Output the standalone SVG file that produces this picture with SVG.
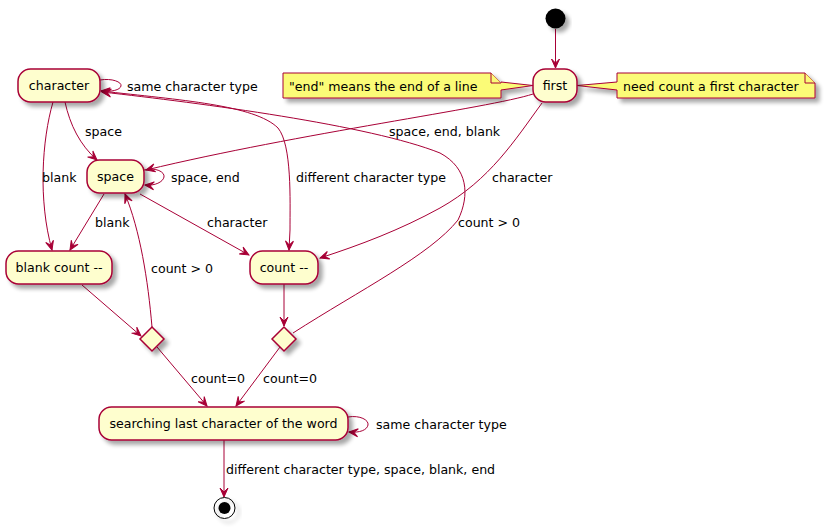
<svg xmlns="http://www.w3.org/2000/svg" width="826" height="529" viewBox="0 0 826 529">
<style>
.st{fill:#FEFECE;stroke:#A80036;stroke-width:1.5}
.nt{fill:#FBFB77;stroke:#A80036;stroke-width:1}
.e{fill:none;stroke:#A80036;stroke-width:1}
text{font-family:"DejaVu Sans","Liberation Sans",sans-serif;font-size:12.6px;fill:#000}
.c{text-anchor:middle}
</style>
<defs>
<filter id="sh" x="-20%" y="-20%" width="150%" height="160%">
<feGaussianBlur in="SourceAlpha" stdDeviation="2"/>
<feOffset dx="4" dy="4" result="b"/>
<feComponentTransfer><feFuncA type="linear" slope="0.35"/></feComponentTransfer>
<feMerge><feMergeNode/><feMergeNode in="SourceGraphic"/></feMerge>
</filter>
<marker id="a" viewBox="-10 -5 11 10" refX="0" refY="0" markerWidth="11" markerHeight="10" markerUnits="userSpaceOnUse" orient="auto">
<path d="M0,0 L-9,-4 L-5,0 L-9,4 Z" fill="#A80036" stroke="#A80036" stroke-width="1"/>
</marker>
</defs>

<g id="connectors">
<path class="e" marker-end="url(#a)" d="M555.5,29 L555.5,68"/>
<path class="e" marker-end="url(#a)" d="M533,94 C490,108 300,133 146,170"/>
<path class="e" marker-end="url(#a)" d="M542,103 C515,140 490,180 440,208 C400,230 360,245 320,258"/>
<path class="e" marker-end="url(#a)" d="M65,102 C70,125 80,145 97,160"/>
<path class="e" marker-end="url(#a)" d="M53,102 C42,140 38,200 52,250"/>
<path class="e" marker-end="url(#a)" d="M100,80 C112,78 122,82 121,86 C120,90 112,92 101,91"/>
<path class="e" d="M101,91 C180,100 255,105 278,128 C292,145 290,200 290,230"/>
<path class="e" marker-end="url(#a)" d="M290,230 L289,250"/>
<path class="e" marker-end="url(#a)" d="M293,333 C360,290 430,255 458,220 C470,195 468,168 440,153 C370,125 200,103 102,92"/>
<path class="e" marker-end="url(#a)" d="M144,170 C156,167 165,172 164,177 C163,182 155,186 145,185"/>
<path class="e" marker-end="url(#a)" d="M104,194 L70,250"/>
<path class="e" marker-end="url(#a)" d="M140,194 L249,255"/>
<path class="e" marker-end="url(#a)" d="M82,285 L141,336"/>
<path class="e" marker-end="url(#a)" d="M152,327 C148,280 140,230 125,194"/>
<path class="e" marker-end="url(#a)" d="M284,284 L284,326"/>
<path class="e" marker-end="url(#a)" d="M157,347 L207,406"/>
<path class="e" marker-end="url(#a)" d="M280,347 L236,406"/>
<path class="e" marker-end="url(#a)" d="M348,417 C360,415 369,420 368,425 C367,430 360,433 349,432"/>
<path class="e" marker-end="url(#a)" d="M224,440 L224,497"/>
<text x="127" y="91">same character type</text>
<text x="85" y="136">space</text>
<text x="42" y="182">blank</text>
<text x="171" y="182">space, end</text>
<text x="389" y="136">space, end, blank</text>
<text x="296" y="182">different character type</text>
<text x="492" y="182">character</text>
<text x="95" y="227">blank</text>
<text x="207" y="227">character</text>
<text x="151" y="273">count &gt; 0</text>
<text x="458" y="227">count &gt; 0</text>
<text x="191" y="383">count=0</text>
<text x="263" y="383">count=0</text>
<text x="376" y="429">same character type</text>
<text x="226" y="474">different character type, space, blank, end</text>
</g>

<g id="start"><circle cx="555.5" cy="18.5" r="10" fill="#000" filter="url(#sh)"/></g>

<g id="note1">
<path class="nt" filter="url(#sh)" d="M283,73 L491,73 L501,83 L501,82 L533,85.5 L501,90 L501,98 L283,98 Z"/>
<path class="nt" d="M491,73 L491,83 L501,83"/>
<text x="289" y="90.5">"end" means the end of a line</text>
</g>

<g id="note2">
<path class="nt" filter="url(#sh)" d="M617,73 L805,73 L815,83 L815,98 L617,98 L617,90 L577,85.5 L617,82 Z"/>
<path class="nt" d="M805,73 L805,83 L815,83"/>
<text x="623" y="90.5">need count a first character</text>
</g>

<g id="first">
<rect class="st" filter="url(#sh)" x="533" y="69" width="44" height="33" rx="12.5"/>
<text class="c" x="555" y="90">first</text>
</g>

<g id="character">
<rect class="st" filter="url(#sh)" x="18" y="69" width="82" height="33" rx="12.5"/>
<text class="c" x="59" y="90">character</text>
</g>

<g id="space">
<rect class="st" filter="url(#sh)" x="87" y="160" width="57" height="33" rx="12.5"/>
<text class="c" x="115.5" y="181">space</text>
</g>

<g id="blankcount">
<rect class="st" filter="url(#sh)" x="6" y="251" width="106" height="33" rx="12.5"/>
<text class="c" x="59" y="272">blank count --</text>
</g>

<g id="count">
<rect class="st" filter="url(#sh)" x="250" y="251" width="68" height="33" rx="12.5"/>
<text class="c" x="284" y="272">count --</text>
</g>

<g id="choice1"><polygon class="st" filter="url(#sh)" points="152,327 164,339 152,351 140,339"/></g>
<g id="choice2"><polygon class="st" filter="url(#sh)" points="284,327 296,339 284,351 272,339"/></g>

<g id="searching">
<rect class="st" filter="url(#sh)" x="99" y="407" width="249" height="33" rx="12.5"/>
<text class="c" x="223.5" y="428">searching last character of the word</text>
</g>

<g id="end">
<circle cx="224.5" cy="508" r="10.5" fill="none" stroke="#000" stroke-width="1" filter="url(#sh)"/>
<circle cx="224.5" cy="508" r="6" fill="#000"/>
</g>
</svg>
